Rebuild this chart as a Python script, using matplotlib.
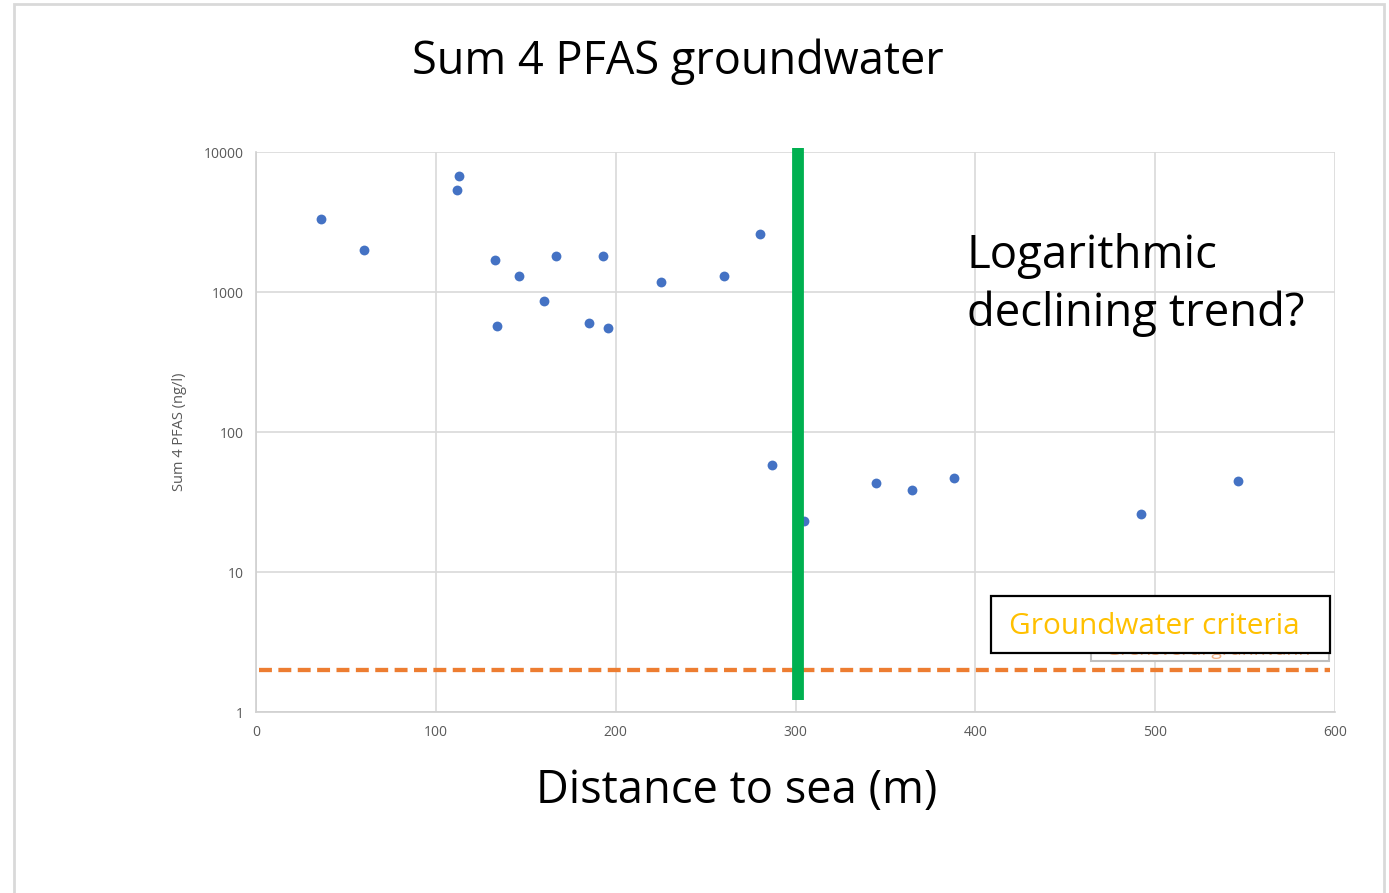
import numpy as np
import matplotlib
matplotlib.use("Agg")
import matplotlib.pyplot as plt
from matplotlib.patches import Rectangle

plt.rcParams['font.family'] = ['Open Sans', 'DejaVu Sans']

# sample points: distance to sea (m) and sum 4 PFAS (ng/l)
distance = [36, 60, 113, 112, 133, 146, 167, 193, 160, 134, 185, 196,
            225, 260, 280, 287, 305, 345, 365, 388, 492, 546]
pfas = [3320, 2000, 6740, 5350, 1690, 1300, 1810, 1810, 860, 570, 600, 550,
        1185, 1300, 2580, 58, 23, 43, 38.5, 47, 26, 45]

criteria_value = 2
criteria_x = [1.5, 597]
divider_x = 301.5
divider_y = [1.22, 10700]

x_ticks = [0, 100, 200, 300, 400, 500, 600]
y_ticks = [1, 10, 100, 1000, 10000]

W, H = 1389, 893
fig = plt.figure(figsize=(W / 100, H / 100), dpi=100)

# outer slide frame
fig.patches.append(Rectangle((14 / W, -0.01), 1370 / W, 1 - 4 / H + 0.01,
                             transform=fig.transFigure, fill=False,
                             edgecolor="#d9d9d9", lw=2))

ax = fig.add_axes([256 / W, 1 - 712 / H, (1335 - 256) / W, (712 - 152) / H])
ax.set_yscale("log")
ax.set_xlim(0, 600)
ax.set_ylim(1, 10000)
ax.set_xticks(x_ticks)
ax.set_xticklabels([str(t) for t in x_ticks])
ax.set_yticks(y_ticks)
ax.set_yticklabels([str(t) for t in y_ticks])
ax.minorticks_off()
ax.tick_params(length=0, labelsize=10, labelcolor="#595959", pad=9)
ax.grid(True, color="#d9d9d9", lw=1.2)
ax.set_axisbelow(True)
for side in ["top", "right"]:
    ax.spines[side].set_visible(False)
for side in ["left", "bottom"]:
    ax.spines[side].set_color("#d0d0d0")
    ax.spines[side].set_linewidth(1.2)

ax.set_ylabel("Sum 4 PFAS (ng/l)", fontsize=10.5, color="#595959", labelpad=12)

ax.scatter(distance, pfas, s=50, color="#4472C4", zorder=3, linewidths=0)

ax.plot(criteria_x, [criteria_value, criteria_value], color="#ED7D31", lw=3.1,
        linestyle=(0, (3, 1.5)), zorder=4)

ax.plot([divider_x, divider_x], divider_y, color="#00B050", lw=8.5,
        solid_capstyle="butt", zorder=5, clip_on=False)

# original (hidden) legend box
fig.patches.append(Rectangle((1091 / W, 1 - 661 / H), 238 / W, 60 / H,
                             transform=fig.transFigure, fill=True,
                             facecolor="white", edgecolor="#bfbfbf", lw=1.5,
                             zorder=6))
fig.text(1208 / W, 1 - 655 / H, "Grensverdi grunnvann", color="#F4B183",
         fontsize=14, ha="center", va="baseline", zorder=7)
# overlay label box
fig.patches.append(Rectangle((991 / W, 1 - 653 / H), 339 / W, 57 / H,
                             transform=fig.transFigure, fill=True,
                             facecolor="white", edgecolor="black", lw=1.6,
                             zorder=8))
fig.text(1154 / W, 1 - 627 / H, "Groundwater criteria", color="#FFC000",
         fontsize=21.4, ha="center", va="center", zorder=9)

fig.text(678 / W, 1 - 62 / H, "Sum 4 PFAS groundwater", fontsize=32.5,
         ha="center", va="center", color="black")
fig.text(967 / W, 1 - 285 / H, "Logarithmic\ndeclining trend?", fontsize=32.8,
         ha="left", va="center", color="black", linespacing=1.3)
fig.text(737 / W, 1 - 791 / H, "Distance to sea (m)", fontsize=32.6,
         ha="center", va="center", color="black")

fig.savefig("out.png", dpi=100)
